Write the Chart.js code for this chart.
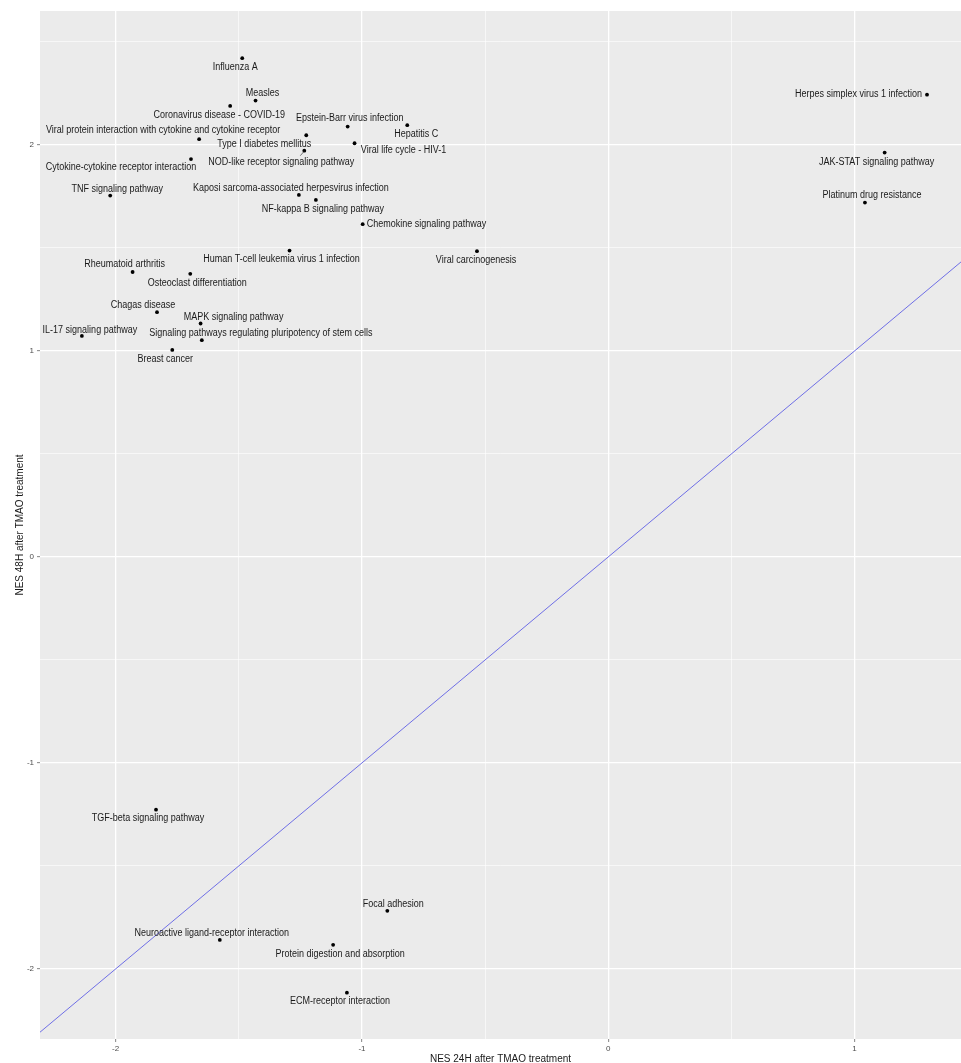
<!DOCTYPE html>
<html>
<head>
<meta charset="utf-8">
<script src="https://cdn.jsdelivr.net/npm/chart.js@4.4.1/dist/chart.umd.min.js"></script>
<style>
  body { margin: 0; background: #fff; overflow: hidden; }
  #wrap { width: 961px; height: 1063px; }
  canvas { display: block; }
</style>
</head>
<body>
<div id="wrap"><canvas id="nesChart" width="961" height="1063"></canvas></div>
<script>
const pathways = [
    'Influenza A',
    'Measles',
    'Coronavirus disease - COVID-19',
    'Epstein-Barr virus infection',
    'Hepatitis C',
    'Viral protein interaction with cytokine and cytokine receptor',
    'Type I diabetes mellitus',
    'Viral life cycle - HIV-1',
    'NOD-like receptor signaling pathway',
    'Cytokine-cytokine receptor interaction',
    'TNF signaling pathway',
    'Kaposi sarcoma-associated herpesvirus infection',
    'NF-kappa B signaling pathway',
    'Chemokine signaling pathway',
    'Human T-cell leukemia virus 1 infection',
    'Viral carcinogenesis',
    'Rheumatoid arthritis',
    'Osteoclast differentiation',
    'Chagas disease',
    'MAPK signaling pathway',
    'IL-17 signaling pathway',
    'Signaling pathways regulating pluripotency of stem cells',
    'Breast cancer',
    'Herpes simplex virus 1 infection',
    'JAK-STAT signaling pathway',
    'Platinum drug resistance',
    'TGF-beta signaling pathway',
    'Focal adhesion',
    'Neuroactive ligand-receptor interaction',
    'Protein digestion and absorption',
    'ECM-receptor interaction'
];

const nes24h = [
    -1.486, -1.432, -1.535, -1.058, -0.816, -1.661, -1.226, -1.030,
    -1.234, -1.694, -2.022, -1.256, -1.187, -0.997, -1.294, -0.533,
    -1.931, -1.697, -1.832, -1.655, -2.137, -1.650, -1.770,
    1.294, 1.122, 1.042,
    -1.836, -0.897, -1.577, -1.117, -1.061
];

const nes48h = [
    2.421, 2.215, 2.189, 2.089, 2.096, 2.028, 2.047, 2.008,
    1.972, 1.931, 1.754, 1.757, 1.733, 1.615, 1.487, 1.484,
    1.383, 1.374, 1.188, 1.133, 1.073, 1.052, 1.005,
    2.244, 1.963, 1.720,
    -1.227, -1.718, -1.859, -1.883, -2.115
];

const xTickLabels = [-2, -1, 0, 1];
const yTickLabels = [-2, -1, 0, 1, 2];
const xRange = [-2.307, 1.432];
const yRange = [-2.34, 2.65];

// label placement next to each dot, in px (dx, dy, align) - repel style
const labelPos = [
    [-7, 9], [7, -7], [-11, 9], [2, -8], [9, 9], [-36, -9], [-42, 9], [49, 7],
    [-23, 12], [-70, 8], [7, -6], [-8, -7], [7, 9], [4, 0, 'left'], [-8, 9], [-1, 9],
    [-8, -8], [7, 9], [-14, -7], [33, -6], [8, -6], [59, -7], [-7, 9],
    [-5, 0, 'right'], [-8, 10], [7, -7],
    [-8, 9], [6, -7], [-8, -7], [7, 9], [-7, 9]
];

const points = nes24h.map((v, i) => ({ x: v, y: nes48h[i] }))

const isWhole = v => Math.abs(v - Math.round(v)) < 1e-6

// grey panel like ggplot
const panelBg = {
    id: 'panelBg',
    beforeDraw(chart) {
        const { ctx, chartArea: a } = chart
        ctx.save()
        ctx.fillStyle = '#EBEBEB'
        ctx.fillRect(a.left, a.top, a.right - a.left, a.bottom - a.top)
        ctx.restore()
    }
}

const pointLabels = {
    id: 'pointLabels',
    afterDatasetsDraw(chart) {
        const { ctx } = chart
        const meta = chart.getDatasetMeta(1)
        ctx.save()
        ctx.font = '10px "Liberation Sans", Arial, sans-serif'
        ctx.fillStyle = '#1a1a1a'
        ctx.textBaseline = 'middle'
        meta.data.forEach((pt, i) => {
            const [dx, dy, align] = labelPos[i]
            const a = align || 'center'
            // NOD-like label got a little leader segment
            if (i === 8) {
                ctx.strokeStyle = '#555'
                ctx.lineWidth = 0.8
                ctx.beginPath()
                ctx.moveTo(pt.x - 0.5, pt.y + 1)
                ctx.lineTo(pt.x - 4, pt.y + 5)
                ctx.stroke()
            }
            ctx.save()
            ctx.translate(pt.x + dx, pt.y + dy)
            ctx.scale(0.9, 1)
            ctx.textAlign = a
            ctx.fillText(pathways[i], 0, 0)
            ctx.restore()
        })
        ctx.restore()
    }
}

const tickFont = { family: '"Liberation Sans", Arial, sans-serif', size: 8 }

const nesChart = new Chart(
    document.getElementById('nesChart'),
    {
        type: 'scatter',
        data: {
            datasets: [
                {
                    // y = x reference line
                    type: 'line',
                    data: [{ x: xRange[0], y: xRange[0] }, { x: xRange[1], y: xRange[1] }],
                    borderColor: '#6f6fe6',
                    borderWidth: 1,
                    pointRadius: 0,
                    fill: false
                },
                {
                    data: points,
                    pointRadius: 1.9,
                    pointBackgroundColor: '#000',
                    pointBorderWidth: 0
                }
            ]
        },
        options: {
            responsive: false,
            animation: false,
            events: [],
            layout: { autoPadding: false, padding: { top: 11, right: 0, left: 0, bottom: 0 } },
            plugins: {
                legend: { display: false },
                tooltip: { enabled: false }
            },
            scales: {
                x: {
                    type: 'linear',
                    min: xRange[0],
                    max: xRange[1],
                    afterFit: s => { s.height = 24; s.paddingLeft = 0; s.paddingRight = 0 },
                    border: { display: false },
                    grid: {
                        color: '#FFFFFF',
                        lineWidth: c => isWhole(c.tick.value) ? 1.3 : 0.6,
                        drawTicks: true,
                        tickLength: 3,
                        tickColor: c => isWhole(c.tick.value) ? '#666' : 'rgba(0,0,0,0)',
                        tickWidth: 0.8
                    },
                    ticks: {
                        stepSize: 0.5,
                        includeBounds: false,
                        autoSkip: false,
                        maxRotation: 0,
                        padding: 2,
                        color: '#4d4d4d',
                        font: tickFont,
                        callback: v => isWhole(v) && xTickLabels.includes(Math.round(v)) ? String(Math.round(v)) : ''
                    },
                    title: {
                        display: true,
                        text: 'NES 24H after TMAO treatment',
                        color: '#1a1a1a',
                        font: { family: '"Liberation Sans Narrow", "Liberation Sans", Arial, sans-serif', size: 10 },
                        padding: { top: 0, bottom: -2 }
                    }
                },
                y: {
                    type: 'linear',
                    min: yRange[0],
                    max: yRange[1],
                    afterFit: s => { s.width = 40; s.paddingTop = 0; s.paddingBottom = 0 },
                    border: { display: false },
                    grid: {
                        color: '#FFFFFF',
                        lineWidth: c => isWhole(c.tick.value) ? 1.3 : 0.6,
                        drawTicks: true,
                        tickLength: 3,
                        tickColor: c => isWhole(c.tick.value) ? '#666' : 'rgba(0,0,0,0)',
                        tickWidth: 0.8
                    },
                    ticks: {
                        stepSize: 0.5,
                        includeBounds: false,
                        autoSkip: false,
                        padding: 3,
                        color: '#4d4d4d',
                        font: tickFont,
                        callback: v => isWhole(v) && yTickLabels.includes(Math.round(v)) ? String(Math.round(v)) : ''
                    },
                    title: {
                        display: true,
                        text: 'NES 48H after TMAO treatment',
                        color: '#1a1a1a',
                        font: { family: '"Liberation Sans Narrow", "Liberation Sans", Arial, sans-serif', size: 10 },
                        padding: { top: 14, bottom: 0 }
                    }
                }
            }
        },
        plugins: [panelBg, pointLabels]
    });
</script>
</body>
</html>
